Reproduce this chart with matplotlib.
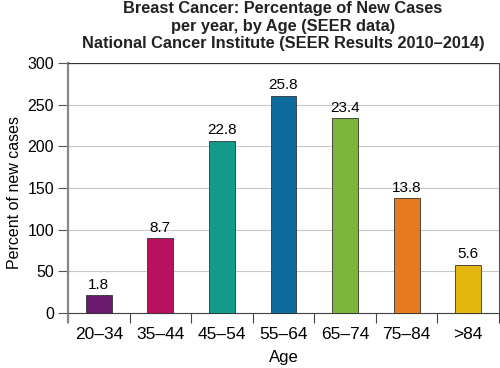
import matplotlib.pyplot as plt
import numpy as np

ages = ["20\u201334", "35\u201344", "45\u201354", "55\u201364", "65\u201374", "75\u201384", ">84"]
heights = [21, 90, 207, 261, 234, 138, 58]
labels = ["1.8", "8.7", "22.8", "25.8", "23.4", "13.8", "5.6"]
colors = ["#6a1a6c", "#b8115e", "#129a8c", "#0e6a9c", "#7db43a", "#e57a1f", "#e3b70d"]

plt.rcParams['font.family'] = ['Liberation Sans', 'DejaVu Sans']

fig = plt.figure(figsize=(5, 3.68), dpi=100)
ax = fig.add_axes([0.136, 0.125, 0.862, 0.703])

x = np.arange(len(ages))
bars = ax.bar(x, heights, width=0.42, color=colors, edgecolor="#333333", linewidth=0.6, zorder=3)
for xi, h, lab in zip(x, heights, labels):
    ax.text(xi, h + 4, lab, ha="center", va="bottom", fontsize=11)

ax.set_xlim(-0.5, 6.5)
ax.set_ylim(-11, 300)
ax.set_yticks([0, 50, 100, 150, 200, 250, 300])
ax.tick_params(axis="y", labelsize=11.5, length=7, width=0.8, color="#555555", pad=3)
ax.grid(axis="y", color="#c8c8c8", linewidth=0.8, zorder=0)
ax.axhline(300, color="#333333", linewidth=0.9, zorder=4)

# categories sit between the tick marks
ax.set_xticks(x)
ax.set_xticklabels(ages)
ax.tick_params(axis="x", which="major", length=0, pad=10, labelsize=12.5)
ax.set_xticks(np.arange(-0.5, 7.0, 1.0), minor=True)
ax.tick_params(axis="x", which="minor", length=7, width=0.8, color="#444444")

ax.spines["bottom"].set_position(("data", 0))
ax.spines["bottom"].set_color("#444444")
ax.spines["left"].set_color("#888888")
ax.spines["left"].set_linewidth(1.6)
ax.spines["top"].set_visible(False)
ax.spines["right"].set_bounds(0, 300)
ax.spines["right"].set_color("#555555")

ax.set_ylabel("Percent of new cases", fontsize=11.5, labelpad=4)
ax.set_xlabel("Age", fontsize=12, labelpad=6)

fig.text(0.566, 0.997, "Breast Cancer: Percentage of New Cases\nper year, by Age (SEER data)\n"
         "National Cancer Institute (SEER Results 2010\u20132014)",
         ha="center", va="top", fontsize=11.8, fontweight="bold", color="#222222", linespacing=1.2)

fig.savefig("out.png", dpi=100)
